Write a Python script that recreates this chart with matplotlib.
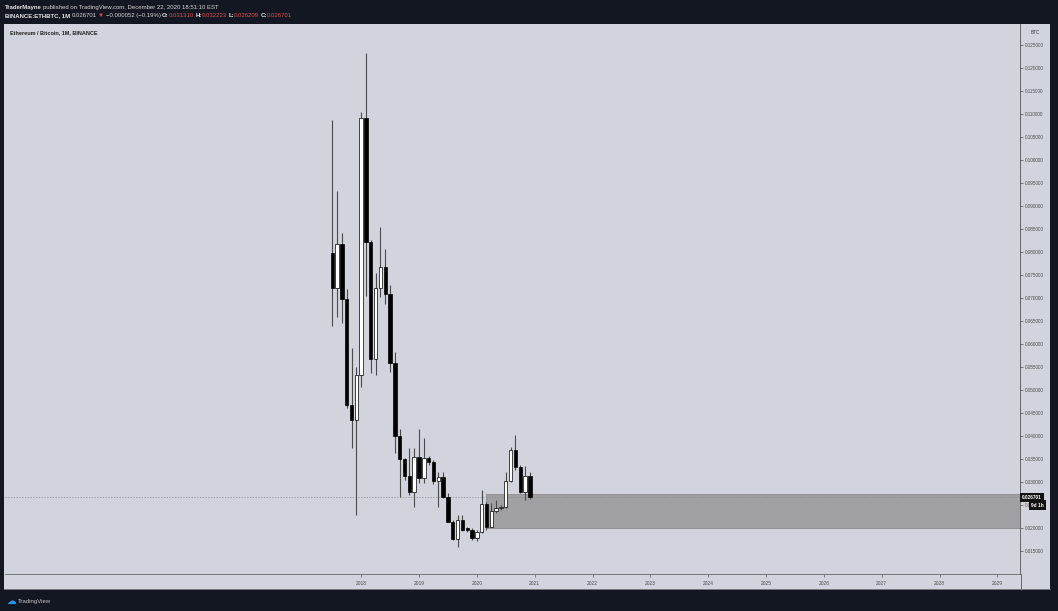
import numpy as np
import pandas as pd
import matplotlib
matplotlib.use("Agg")
import matplotlib.pyplot as plt
from matplotlib.patches import Rectangle
from matplotlib.lines import Line2D
from matplotlib.transforms import blended_transform_factory

plt.rcParams["font.family"] = ["Liberation Sans", "DejaVu Sans"]

# monthly ETH/BTC candles, Jul 2017 .. Dec 2020
opens = [0.0798, 0.0722, 0.0817, 0.0697, 0.0467, 0.0435,
         0.0533, 0.1091, 0.0822, 0.0567, 0.0721, 0.0768, 0.0708, 0.0558, 0.0400, 0.0349, 0.0312, 0.0279,
         0.0354, 0.0308, 0.0352, 0.0343, 0.0303, 0.0311, 0.0268, 0.0214, 0.0177, 0.0217, 0.0199, 0.0196,
         0.0178, 0.0191, 0.0252, 0.0203, 0.0238, 0.0243, 0.0245, 0.0303, 0.0370, 0.0332, 0.0279, 0.031310]
highs = [0.1087, 0.0933, 0.0841, 0.0719, 0.0591, 0.0551,
         0.1105, 0.1233, 0.0826, 0.0754, 0.0855, 0.0806, 0.0728, 0.0583, 0.0415, 0.0352, 0.0373, 0.0373,
         0.0415, 0.0395, 0.0357, 0.0348, 0.0322, 0.0322, 0.0277, 0.0218, 0.0228, 0.0228, 0.0203, 0.0201,
         0.0195, 0.0282, 0.0256, 0.0255, 0.0260, 0.0250, 0.0322, 0.0376, 0.0402, 0.0337, 0.0335, 0.032223]
lows = [0.0640, 0.0659, 0.0646, 0.0460, 0.0373, 0.0228,
        0.0507, 0.0704, 0.0536, 0.0533, 0.0702, 0.0688, 0.0540, 0.0362, 0.0268, 0.0305, 0.0272, 0.0246,
        0.0297, 0.0297, 0.0338, 0.0296, 0.0246, 0.0265, 0.0212, 0.0173, 0.0159, 0.0193, 0.0192, 0.0175,
        0.0172, 0.0189, 0.0196, 0.0202, 0.0232, 0.0240, 0.0243, 0.0300, 0.0327, 0.0276, 0.0261, 0.026209]
closes = [0.0722, 0.0817, 0.0697, 0.0467, 0.0435, 0.0533,
          0.1091, 0.0822, 0.0567, 0.0721, 0.0768, 0.0708, 0.0558, 0.0400, 0.0349, 0.0312, 0.0279, 0.0354,
          0.0308, 0.0352, 0.0343, 0.0303, 0.0311, 0.0268, 0.0214, 0.0177, 0.0217, 0.0196, 0.0196, 0.0178,
          0.0191, 0.0252, 0.0202, 0.0238, 0.0243, 0.0245, 0.0303, 0.0370, 0.0332, 0.0279, 0.031310, 0.026701]

last_price = 0.026701
zone_start = 25.9          # months after Jan 2018
zone_top, zone_bottom = 0.0273, 0.0199

years = ["2018", "2019", "2020", "2021", "2022", "2023", "2024", "2025", "2026", "2027", "2028", "2029"]
price_ticks = np.round(np.arange(0.015, 0.1251, 0.005), 3)

BG = "#d1d4dc"
DARK = "#131722"
RED = "#e0514f"

W, H = 1058, 611
fig = plt.figure(figsize=(W / 100, H / 100), dpi=100, facecolor=DARK)
fig.patches.append(Rectangle((4 / W, 1 - 590 / H), 1046 / W, 566 / H, transform=fig.transFigure,
                             facecolor=BG, edgecolor="none", zorder=-10))

ax = fig.add_axes([5 / W, 1 - 574 / H, 1015 / W, 550 / H], facecolor=BG)

months = pd.period_range("2017-07", periods=len(opens), freq="M")
x = np.array((months.year - 2018) * 12 + months.month - 1, dtype=float)
o, h, l, c = map(np.array, (opens, highs, lows, closes))
up = c >= o

ax.vlines(x, l, h, color="#4a4a4a", lw=0.8, zorder=3)
ax.bar(x[up], (c - o)[up], bottom=o[up], width=0.7, facecolor="white", edgecolor="black", lw=0.5, zorder=4)
ax.bar(x[~up], (o - c)[~up], bottom=c[~up], width=0.7, facecolor="black", edgecolor="black", lw=0.5, zorder=4)

xmin, xmax = -73.9, 136.7
ax.add_patch(Rectangle((zone_start, zone_bottom), xmax - zone_start, zone_top - zone_bottom,
                       facecolor="#a0a0a4", edgecolor="#8c8c90", lw=0.6, zorder=1))
ax.axhline(last_price, color="#8a8a8a", lw=0.5, ls=(0, (2, 2)), zorder=2)

ax.set_xlim(xmin, xmax)
ax.set_ylim(0.0100, 0.12957)

ax.set_xticks(np.arange(len(years)) * 12)
ax.set_xticklabels(years)
ax.yaxis.tick_right()
ax.set_yticks(price_ticks)
ax.set_yticklabels([f"{v:.6f}" for v in price_ticks])
ax.tick_params(axis="y", direction="out", length=2, width=0.5, color="#555555",
               labelsize=3.3, labelcolor="#4a4a4a", pad=1.5)
ax.tick_params(axis="x", direction="out", length=2, width=0.5, color="#555555",
               labelsize=3.5, labelcolor="#4a4a4a", pad=3)
for side in ["top", "left"]:
    ax.spines[side].set_visible(False)
ax.spines["right"].set_color("#555555")
ax.spines["right"].set_linewidth(0.6)
ax.spines["bottom"].set_color("#666666")
ax.spines["bottom"].set_linewidth(0.6)

# axis frame lines below the plot
fig.add_artist(Line2D([1020.5 / W, 1020.5 / W], [1 - 574 / H, 1 - 590 / H], color="#555555", lw=0.6))
fig.add_artist(Line2D([4 / W, 1050 / W], [1 - 589 / H, 1 - 589 / H], color="#666666", lw=0.6))

# price labels on the axis
trans = blended_transform_factory(ax.transAxes, ax.transData)
ax.text(1.002, last_price, "0.026701", transform=trans, ha="left", va="center", fontsize=3.4,
        color="white", fontweight="bold", zorder=10, clip_on=False,
        bbox=dict(boxstyle="square,pad=0.45", facecolor="#111111", edgecolor="none"))
ax.text(1.011, 0.0250, "9d 1h", transform=trans, ha="left", va="center", fontsize=3.4,
        color="white", fontweight="bold", zorder=10, clip_on=False,
        bbox=dict(boxstyle="square,pad=0.5", facecolor="#111111", edgecolor="none"))

fig.text(1035 / W, 1 - 33 / H, "BTC", fontsize=3.3, color="#333333", ha="center", va="center")
fig.text(10 / W, 1 - 33 / H, "Ethereum / Bitcoin, 1M, BINANCE", fontsize=4.0, color="#222222",
         fontweight="bold", ha="left", va="center")


def rich_line(x0, y0, parts, size):
    renderer = fig.canvas.get_renderer()
    xp = x0
    for s, color, weight, gap in parts:
        t = fig.text(xp / W, 1 - y0 / H, s, fontsize=size, color=color, fontweight=weight,
                     ha="left", va="baseline")
        bb = t.get_window_extent(renderer)
        xp = bb.x1 + gap


rich_line(5, 9, [("TraderMayne", "#e8e8e8", "bold", 1.5),
                 ("published on TradingView.com, December 22, 2020 18:51:10 EST", "#d8d8d8", "normal", 0)], 4.3)
rich_line(5, 17, [("BINANCE:ETHBTC, 1M", "#e8e8e8", "bold", 1.5),
                  ("0.026701", "#d8d8d8", "normal", 1.5),
                  ("\u25bc", RED, "normal", 1.5),
                  ("\u22120.000052 (\u22120.19%)", "#d8d8d8", "normal", 1.5),
                  ("O:", "#e8e8e8", "bold", 0),
                  ("0.031310", RED, "normal", 1.5),
                  ("H:", "#e8e8e8", "bold", 0),
                  ("0.032223", RED, "normal", 1.5),
                  ("L:", "#e8e8e8", "bold", 0),
                  ("0.026209", RED, "normal", 1.5),
                  ("C:", "#e8e8e8", "bold", 0),
                  ("0.026701", RED, "normal", 0)], 4.3)

fig.text(6 / W, 1 - 601 / H, "\u2601", fontsize=7, color="#2196f3", ha="left", va="center",
         family="DejaVu Sans")
fig.text(18 / W, 1 - 601 / H, "TradingView", fontsize=4.3, color="#c8c8c8", ha="left", va="center")

fig.savefig("out.png", dpi=100, facecolor=DARK)
